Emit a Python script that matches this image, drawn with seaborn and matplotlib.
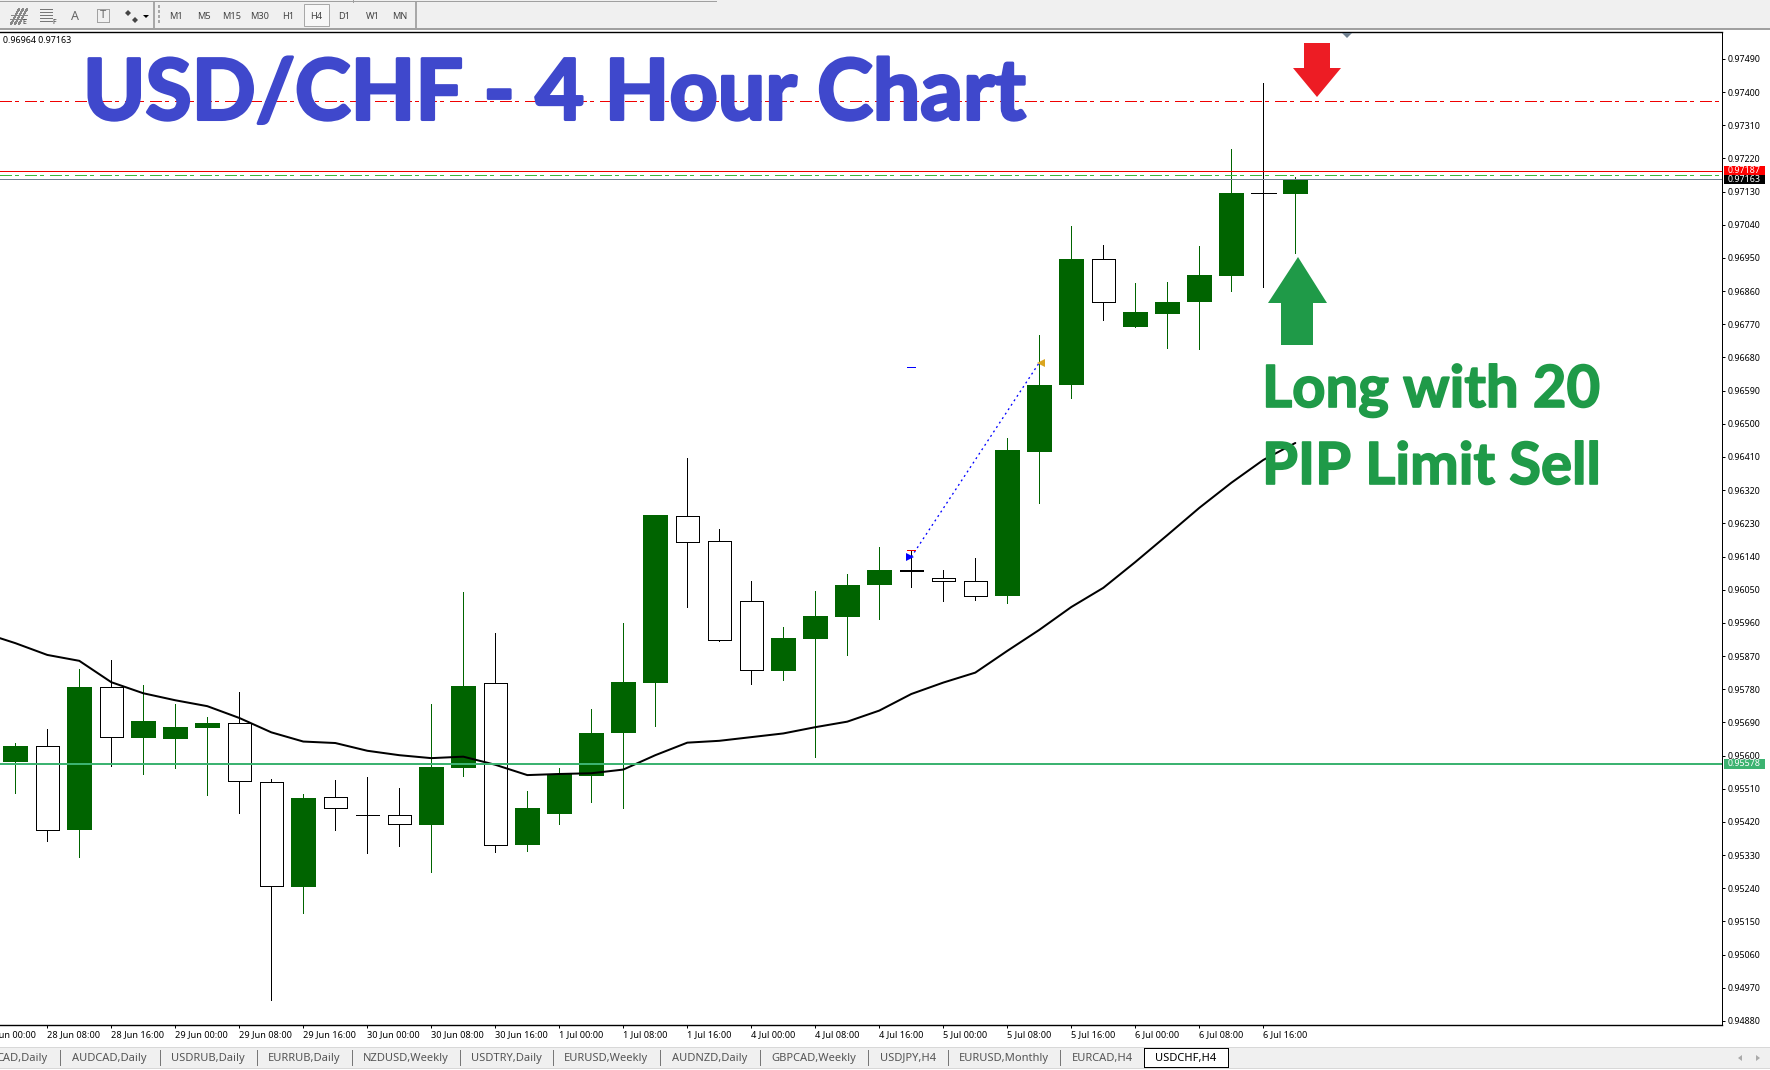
import matplotlib
matplotlib.use("Agg")
import matplotlib.pyplot as plt
import matplotlib.patheffects as pe
from matplotlib.lines import Line2D
from matplotlib.patches import Polygon, Rectangle
from matplotlib.transforms import blended_transform_factory
import numpy as np
import pandas as pd
import seaborn as sns

# ---------- data (prices in 1e-5 units) ----------
opens = [95583,95625,95398,95785,95648,95645,95675,95688,95527,95243,95487,95440,95438,95412,95566,95796,95357,95441,95545,95661,95798,96249,96181,96019,95830,95917,95977,96064,96103,96081,96073,96034,96424,96604,96946,96763,96798,96831,96901,97126,97124]
closes = [95626,95399,95786,95650,95694,95678,95688,95530,95245,95485,95459,95438,95413,95569,95789,95358,95458,95550,95661,95800,96253,96179,95913,95831,95919,95979,96063,96104,96101,96073,96032,96429,96605,96947,96830,96804,96831,96904,97126,97126,97162]
highs = [95634,95672,95834,95859,95792,95740,95705,95773,95536,95496,95534,95542,95512,95740,96044,95933,95504,95566,95726,95960,96253,96407,96215,96074,95949,96047,96093,96166,96155,96104,96136,96462,96741,97037,96985,96882,96885,96983,97246,97424,97170]
lows = [95499,95369,95326,95573,95551,95567,95494,95445,94938,95174,95399,95336,95355,95285,95545,95339,95342,95415,95475,95459,95681,96004,95910,95795,95806,95597,95874,95971,96058,96020,96022,96014,96286,96571,96783,96763,96707,96704,96859,96870,96964]
ma_index = list(range(-1, 41))
ma_values = [95933,95905,95873,95857,95799,95769,95750,95734,95702,95663,95638,95634,95613,95601,95593,95597,95575,95547,95550,95552,95562,95601,95635,95640,95650,95660,95677,95692,95722,95767,95798,95825,95884,95941,96003,96055,96125,96198,96272,96340,96402,96448]
price_ticks = [94880,94970,95060,95150,95240,95330,95420,95510,95600,95690,95780,95870,95960,96050,96140,96230,96320,96410,96500,96590,96680,96770,96860,96950,97040,97130,97220,97310,97400,97490]
time_tick_bars = list(range(-1, 40, 2))
time_labels = ["28 Jun 00:00","28 Jun 08:00","28 Jun 16:00","29 Jun 00:00","29 Jun 08:00","29 Jun 16:00","30 Jun 00:00","30 Jun 08:00","30 Jun 16:00","1 Jul 00:00","1 Jul 08:00","1 Jul 16:00","4 Jul 00:00","4 Jul 08:00","4 Jul 16:00","5 Jul 00:00","5 Jul 08:00","5 Jul 16:00","6 Jul 00:00","6 Jul 08:00","6 Jul 16:00"]
level_tp = 97375
level_red = 97187
level_green_dash = 97174
level_bid = 97163
level_low = 95578
trade_bars = [28, 32]
trade_prices = [96139, 96666]
timeframes = ["M1","M5","M15","M30","H1","H4","D1","W1","MN"]
tabs = ["CAD,Daily","AUDCAD,Daily","USDRUB,Daily","EURRUB,Daily","NZDUSD,Weekly","USDTRY,Daily","EURUSD,Weekly","AUDNZD,Daily","GBPCAD,Weekly","USDJPY,H4","EURUSD,Monthly","EURCAD,H4"]
active_tab = "USDCHF,H4"

sns.set_theme(style="white")
plt.rcParams["font.family"] = ["Noto Sans", "DejaVu Sans"]
W, H = 1770, 1070
PX = 0.72  # 1 pixel in points at dpi 100
fig = plt.figure(figsize=(W / 100, H / 100), dpi=100, facecolor="white")
ax = fig.add_axes([0, 1 - 1025 / H, 1722 / W, (1025 - 32) / H])
ax.set_facecolor("white")
GREEN = "#006400"

df = pd.DataFrame({"bar": range(len(opens)), "open": opens, "close": closes, "high": highs, "low": lows}).astype(float)
df[["open", "close", "high", "low"]] /= 1e5
up = df[df.close > df.open]
down = df[df.close <= df.open]

ax.vlines(up.bar, up.low, up.high, color=GREEN, lw=PX, antialiased=False, zorder=2)
ax.vlines(down.bar, down.low, down.high, color="black", lw=PX, antialiased=False, zorder=2)
ax.bar(up.bar, up.close - up.open, bottom=up.open, width=25 / 32, color=GREEN, lw=0, antialiased=False, zorder=3)
solid = down[down.close < down.open]
ax.bar(solid.bar, solid.close - solid.open, bottom=solid.open, width=23.6 / 32, facecolor="white",
       edgecolor="black", lw=PX, antialiased=False, zorder=3)
flat = down[down.close == down.open]
ax.hlines(flat.open, flat.bar - 12.5 / 32, flat.bar + 12.5 / 32, color="black", lw=PX, antialiased=False, zorder=3)

sns.lineplot(x=ma_index, y=np.array(ma_values) / 1e5, color="black", lw=2 * PX, ax=ax, zorder=4, errorbar=None)

dashdot = (0, (11, 4, 3, 6))
ax.axhline(level_tp / 1e5, color="#f00000", lw=PX, ls=dashdot, zorder=5, antialiased=False)
ax.axhline(level_red / 1e5, color="#f00000", lw=PX, zorder=5, antialiased=False)
ax.axhline(level_green_dash / 1e5, color="#3cb83c", lw=PX, ls=dashdot, zorder=5, antialiased=False)
ax.axhline(level_bid / 1e5, color="#708090", lw=PX, zorder=5, antialiased=False)
ax.axhline(level_low / 1e5, color="#3cb371", lw=2 * PX, zorder=5, antialiased=False)

tx = np.array(trade_bars, float)
ty = np.array(trade_prices) / 1e5
ax.plot(tx, ty, color="#0000ff", lw=1.3 * PX, ls=(0, (1.5, 2.6)), zorder=6)
ax.plot(tx[0] - 0.05, ty[0], marker=">", color="#0000ff", ms=6, mew=0, zorder=7)
ax.plot(tx[1] + 0.05, ty[1], marker="<", color="#daa520", ms=6, mew=0, zorder=7)
ax.hlines(0.96158, tx[0] - 0.12, tx[0] + 0.12, color="#f00000", lw=PX, zorder=7, antialiased=False)
ax.hlines(0.96654, tx[0] - 0.12, tx[0] + 0.12, color="#0000ff", lw=PX, zorder=7, antialiased=False)

ax.yaxis.tick_right()
ax.set_yticks(np.array(price_ticks) / 1e5)
ax.set_yticklabels([f"{v / 1e5:.5f}" for v in price_ticks])
ax.set_xticks(time_tick_bars)
ax.set_xticklabels(time_labels, ha="left")
ax.set_xlim(-15.3 / 32, (1722 - 15.3) / 32)
ax.set_ylim(0.94869, 0.97563)
ax.tick_params(axis="y", length=2.5, width=PX, color="black", labelsize=6.4, pad=1.6, labelcolor="black", right=True)
ax.tick_params(axis="x", length=2.5, width=PX, color="black", labelsize=6.6, pad=1.5, labelcolor="black", bottom=True)
for s in ["top", "right", "bottom"]:
    ax.spines[s].set_visible(True)
    ax.spines[s].set_color("black")
    ax.spines[s].set_linewidth(1.4 * PX if s != "right" else PX)
ax.spines["left"].set_visible(False)
ax.set_xlabel("")
ax.set_ylabel("")
ax.grid(False)

# the first time label starts left of the plot and is cut by the picture edge
first_tr = blended_transform_factory(ax.transData, ax.transAxes)
ax.text(time_tick_bars[0], -1 * (2.5 + 1.5) / (0.72 * (1025 - 32)), time_labels[0], transform=first_tr,
        fontsize=6.6, ha="left", va="top", color="black", clip_on=False)

# price tags on the axis
tr = blended_transform_factory(ax.transAxes, ax.transData)
PT_PER_PX = 2.7133e-5
tag_x0 = 1724 / 1722
tag_w = 41 / 1722
for price, bg in [(level_red, "#ff0000"), (level_bid, "#000000"), (level_low, "#3cb371")]:
    ax.add_patch(Rectangle((tag_x0, price / 1e5 - 4.9 * PT_PER_PX), tag_w, 9.8 * PT_PER_PX, transform=tr,
                           fc=bg, ec="none", clip_on=False, zorder=8))
    ax.text(1728 / 1722, price / 1e5, f"{price / 1e5:.5f}", transform=tr, color="white", fontsize=6.4, va="center",
            ha="left", clip_on=False, zorder=9)


def fx(x):
    return x / W


def fy(y):
    return 1 - y / H


def ftext(x, y, s, **kw):
    kw.setdefault("va", "center")
    kw.setdefault("ha", "center")
    return fig.text(fx(x), fy(y), s, **kw)


def frect(x0, y0, x1, y1, **kw):
    kw.setdefault("lw", 0)
    r = Rectangle((fx(x0), fy(y1)), fx(x1 - x0), (y1 - y0) / H, transform=fig.transFigure, **kw)
    fig.add_artist(r)
    return r


def fline(xs, ys, **kw):
    kw.setdefault("lw", PX)
    kw.setdefault("antialiased", False)
    fig.add_artist(Line2D([fx(v) for v in xs], [fy(v) for v in ys], transform=fig.transFigure, **kw))


def fpoly(pts, **kw):
    kw.setdefault("lw", 0)
    fig.add_artist(Polygon([(fx(a), fy(b)) for a, b in pts], closed=True, transform=fig.transFigure, **kw))


# annotations
BLUE_T, GREEN_T = "#3f48cc", "#1f9a48"
t = ftext(83, 95, "USD/CHF - 4 Hour Chart", ha="left", va="center", fontsize=60.6, fontweight="bold", family="Lato",
          color=BLUE_T, zorder=10)
t.set_path_effects([pe.withStroke(linewidth=2.2, foreground=BLUE_T)])
for y, s in [(407, "Long with 20"), (484, "PIP Limit Sell")]:
    t = ftext(1262, y, s, ha="left", va="baseline", fontsize=41.8, fontweight="bold", family="Lato",
              color=GREEN_T, zorder=10)
    t.set_path_effects([pe.withStroke(linewidth=1.2, foreground=GREEN_T)])
fpoly([(1298, 257), (1327, 303), (1313, 303), (1313, 345), (1281, 345), (1281, 303), (1268, 303)], fc=GREEN_T, zorder=10)
fpoly([(1317, 97), (1341, 68), (1330, 68), (1330, 43), (1304, 43), (1304, 68), (1293, 68)], fc="#ed1c24", zorder=10)
fpoly([(1342, 33), (1352, 33), (1347, 38)], fc="#708090", zorder=10)
ftext(3, 40.5, "0.96964 0.97163", ha="left", fontsize=6.4, color="black", zorder=10)

# toolbar
frect(0, 0, W, 29, fc="#f0f0f0", zorder=8)
frect(0, 28, W, 30, fc="#a0a0a0", zorder=8)
fline([0, 716], [0.5, 0.5], color="#a0a0a0", zorder=9)
fline([353, 353], [0, 2], color="#a0a0a0", zorder=9)
for x in (154, 416):
    fline([x, x], [3, 27], color="#a8a8a8", zorder=9, lw=1.5 * PX)
fline([159, 159], [5, 25], color="#a8a8a8", zorder=9, lw=2.5 * PX, ls=(0, (1, 1)))
tf_x = [176, 204, 232, 260, 288, 316, 344, 373, 400]
frect(304, 4, 329, 26, fc="#f7f7f7", ec="#a8a8a8", lw=PX, zorder=9)
for x, s in zip(tf_x, timeframes):
    ftext(x, 16.5, s, fontsize=6.6, color="#444444", zorder=10)
# icons: expert / fractal / text / label / arrows
for dx in (0, 4, 8):
    fline([11 + dx, 19 + dx], [24, 9], color="#888888", zorder=10)
fline([11, 27], [15, 15], color="#888888", zorder=10)
fline([10, 26], [19, 19], color="#888888", zorder=10)
ftext(24, 23, "E", fontsize=5, color="#333333", zorder=10)
for y in (9, 12, 15, 18, 21):
    fline([40, 53], [y, y], color="#777777", zorder=10, ls=(0, (1, 1)))
ftext(54, 23, "F", fontsize=5, color="#333333", zorder=10)
ftext(75, 16, "A", fontsize=9, fontweight="bold", color="#666666", zorder=10)
frect(97, 9, 109, 22, fc="none", ec="#555555", lw=PX, ls=(0, (1, 1)), zorder=10)
ftext(103, 16, "T", fontsize=8, fontweight="bold", color="#666666", zorder=10)
fpoly([(128, 10), (131, 13), (128, 16), (125, 13)], fc="#444444", zorder=10)
fpoly([(135, 17), (138, 20), (135, 23), (132, 20)], fc="#444444", zorder=10)
fpoly([(143, 15), (149, 15), (146, 18)], fc="black", zorder=10)

# tab bar
frect(0, 1047, W, 1068, fc="#f0f0f0", ec="none", zorder=8)
fline([0, W], [1047, 1047], color="#d8d8d8", zorder=9)
fline([0, W], [1068, 1068], color="#d8d8d8", zorder=9)
tab_left = [-4, 71, 171, 268, 362, 471, 564, 671, 770, 880, 958, 1071]
tab_right = [48, 148, 244, 340, 449, 541, 648, 748, 857, 937, 1049, 1133]
for l, r, s in zip(tab_left, tab_right, tabs):
    ftext((l + r) / 2, 1058, s, fontsize=8, color="#555555", zorder=10)
for x in (60, 160, 257, 352, 460, 553, 660, 760, 868, 948, 1060):
    fline([x, x], [1050, 1065], color="#777777", zorder=10)
frect(1144, 1048, 1228, 1066.5, fc="white", ec="black", lw=PX, zorder=9, antialiased=False)
ftext(1186, 1058, active_tab, fontsize=8, color="black", zorder=10)
fpoly([(1742, 1055), (1738, 1058), (1742, 1061)], fc="#aaaaaa", zorder=10)
fpoly([(1756, 1055), (1760, 1058), (1756, 1061)], fc="#aaaaaa", zorder=10)

fig.savefig("out.png", dpi=100, facecolor="white")
